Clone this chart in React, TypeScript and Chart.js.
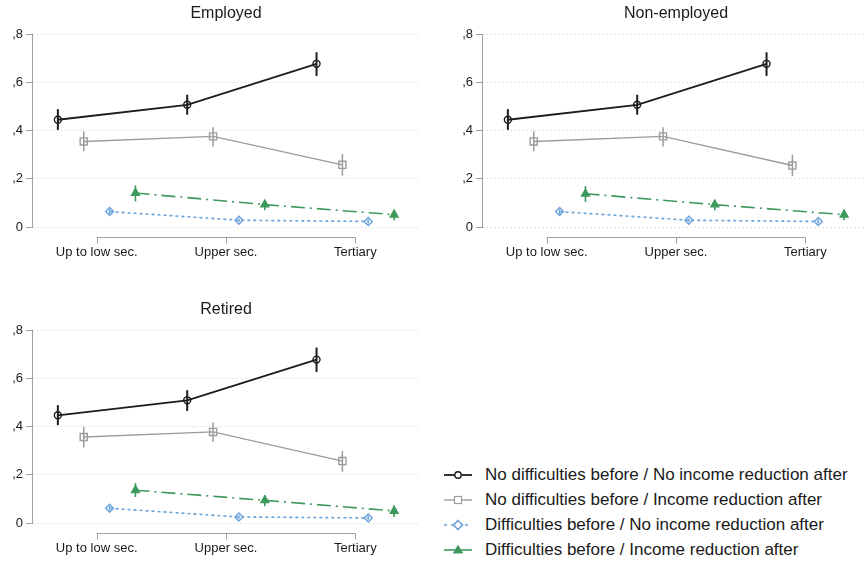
import React, { useEffect, useRef } from "react";
import { Chart, registerables } from "chart.js";

Chart.register(...registerables);

// ---------- data ----------
const categories = ["Up to low sec.", "Upper sec.", "Tertiary"];
const panelTitles = ["Employed", "Non-employed", "Retired"];
const seriesLabels = [
  "No difficulties before / No income reduction after",
  "No difficulties before / Income reduction after",
  "Difficulties before / No income reduction after",
  "Difficulties before / Income reduction after",
];
const yTickValues = [0, 0.2, 0.4, 0.6, 0.8];
const yTickLabels = ["0", ",2", ",4", ",6", ",8"];
const seriesOffsets = [-0.3, -0.1, 0.1, 0.3];

// Employed: estimates and 95% CI bounds
const empNoDiffNoRed = [0.445, 0.507, 0.677];
const empNoDiffNoRedLo = [0.403, 0.466, 0.627];
const empNoDiffNoRedHi = [0.489, 0.549, 0.725];
const empNoDiffRed = [0.355, 0.376, 0.258];
const empNoDiffRedLo = [0.314, 0.334, 0.213];
const empNoDiffRedHi = [0.397, 0.414, 0.303];
const empDiffNoRed = [0.064, 0.028, 0.023];
const empDiffNoRedLo = [0.054, 0.021, 0.015];
const empDiffNoRedHi = [0.074, 0.035, 0.031];
const empDiffRed = [0.141, 0.093, 0.051];
const empDiffRedLo = [0.106, 0.069, 0.028];
const empDiffRedHi = [0.173, 0.113, 0.072];

// Non-employed
const nonNoDiffNoRed = [0.445, 0.507, 0.677];
const nonNoDiffNoRedLo = [0.403, 0.466, 0.627];
const nonNoDiffNoRedHi = [0.489, 0.549, 0.725];
const nonNoDiffRed = [0.355, 0.376, 0.255];
const nonNoDiffRedLo = [0.314, 0.334, 0.211];
const nonNoDiffRedHi = [0.397, 0.414, 0.300];
const nonDiffNoRed = [0.064, 0.028, 0.023];
const nonDiffNoRedLo = [0.054, 0.021, 0.015];
const nonDiffNoRedHi = [0.074, 0.035, 0.031];
const nonDiffRed = [0.138, 0.093, 0.051];
const nonDiffRedLo = [0.104, 0.069, 0.028];
const nonDiffRedHi = [0.170, 0.113, 0.072];

// Retired
const retNoDiffNoRed = [0.447, 0.509, 0.678];
const retNoDiffNoRedLo = [0.406, 0.465, 0.627];
const retNoDiffNoRedHi = [0.489, 0.551, 0.728];
const retNoDiffRed = [0.357, 0.378, 0.257];
const retNoDiffRedLo = [0.313, 0.336, 0.212];
const retNoDiffRedHi = [0.399, 0.417, 0.299];
const retDiffNoRed = [0.061, 0.025, 0.021];
const retDiffNoRedLo = [0.051, 0.018, 0.013];
const retDiffNoRedHi = [0.071, 0.032, 0.029];
const retDiffRed = [0.136, 0.094, 0.050];
const retDiffRedLo = [0.108, 0.069, 0.025];
const retDiffRedHi = [0.166, 0.115, 0.073];

const panelData = [
  [
    [empNoDiffNoRed, empNoDiffNoRedLo, empNoDiffNoRedHi],
    [empNoDiffRed, empNoDiffRedLo, empNoDiffRedHi],
    [empDiffNoRed, empDiffNoRedLo, empDiffNoRedHi],
    [empDiffRed, empDiffRedLo, empDiffRedHi],
  ],
  [
    [nonNoDiffNoRed, nonNoDiffNoRedLo, nonNoDiffNoRedHi],
    [nonNoDiffRed, nonNoDiffRedLo, nonNoDiffRedHi],
    [nonDiffNoRed, nonDiffNoRedLo, nonDiffNoRedHi],
    [nonDiffRed, nonDiffRedLo, nonDiffRedHi],
  ],
  [
    [retNoDiffNoRed, retNoDiffNoRedLo, retNoDiffNoRedHi],
    [retNoDiffRed, retNoDiffRedLo, retNoDiffRedHi],
    [retDiffNoRed, retDiffNoRedLo, retDiffNoRedHi],
    [retDiffRed, retDiffRedLo, retDiffRedHi],
  ],
];

// ---------- styles ----------
const FONT = "'Liberation Sans', Arial, Helvetica, sans-serif";
const seriesStyles = [
  { color: "#1c1c1c", width: 1.8, dash: [] as number[], legendDash: "", point: "circle", radius: 3.5, fill: "rgba(255,255,255,0)", errWidth: 2 },
  { color: "#9c9c9c", width: 1.4, dash: [] as number[], legendDash: "", point: "rect", radius: 5, fill: "rgba(255,255,255,0)", errWidth: 1.5 },
  { color: "#6aa2dc", width: 1.6, dash: [3, 3], legendDash: "3 4", point: "rectRot", radius: 4, fill: "rgba(255,255,255,0)", errWidth: 1.5 },
  { color: "#3e9a5c", width: 1.6, dash: [14, 5, 2, 5], legendDash: "", point: "triangle", radius: 4.5, fill: "#3e9a5c", errWidth: 1.6 },
];

const errorBarPlugin = {
  id: "errorBars",
  afterDatasetsDraw(chart: any) {
    const ctx = chart.ctx;
    const yScale = chart.scales.y;
    chart.data.datasets.forEach((ds: any, di: number) => {
      const meta = chart.getDatasetMeta(di);
      ctx.save();
      ctx.strokeStyle = ds.borderColor;
      ctx.lineWidth = ds.errWidth;
      ctx.setLineDash([]);
      meta.data.forEach((pt: any, i: number) => {
        const lo = ds.errLo[i];
        const hi = ds.errHi[i];
        ctx.beginPath();
        ctx.moveTo(pt.x, yScale.getPixelForValue(lo));
        ctx.lineTo(pt.x, yScale.getPixelForValue(hi));
        ctx.stroke();
      });
      ctx.restore();
    });
  },
};

const xAxisPlugin = {
  id: "stataXAxis",
  afterDraw(chart: any) {
    const ctx = chart.ctx;
    const xs = chart.scales.x;
    const y = chart.chartArea.bottom + 10.5;
    const x1 = xs.getPixelForValue(1);
    const x3 = xs.getPixelForValue(categories.length);
    ctx.save();
    ctx.strokeStyle = "#a0a0a0";
    ctx.lineWidth = 1;
    ctx.beginPath();
    ctx.moveTo(x1, y);
    ctx.lineTo(x3, y);
    for (let i = 1; i <= categories.length; i++) {
      const x = Math.round(xs.getPixelForValue(i)) + 0.5;
      ctx.moveTo(x, y);
      ctx.lineTo(x, y + 6);
    }
    ctx.stroke();
    ctx.restore();
  },
};

function Panel({ index, left, top }: { index: number; left: number; top: number }) {
  const ref = useRef<HTMLCanvasElement | null>(null);
  useEffect(() => {
    if (!ref.current) return;
    const data = panelData[index];
    const datasets = data.map((s, si) => {
      const st = seriesStyles[si];
      return {
        label: seriesLabels[si],
        data: s[0].map((v, ci) => ({ x: ci + 1 + seriesOffsets[si], y: v })),
        errLo: s[1],
        errHi: s[2],
        errWidth: st.errWidth,
        borderColor: st.color,
        backgroundColor: st.fill,
        borderWidth: st.width,
        borderDash: st.dash,
        pointStyle: st.point,
        pointRadius: st.radius,
        pointBorderWidth: 1.4,
        pointBorderColor: st.color,
        pointBackgroundColor: st.fill,
        tension: 0,
        fill: false,
      };
    });
    const chart = new Chart(ref.current, {
      type: "line",
      data: { datasets },
      plugins: [errorBarPlugin, xAxisPlugin],
      options: {
        responsive: false,
        animation: false,
        layout: { padding: { left: 0, right: 13, top: 0, bottom: 0 } },
        plugins: {
          legend: { display: false },
          tooltip: { enabled: false },
          title: {
            display: true,
            text: panelTitles[index],
            fullSize: false,
            color: "#1a1a1a",
            font: { family: FONT, size: 16, weight: "normal" },
            padding: { top: 4, bottom: 11 },
          },
        },
        scales: {
          x: {
            type: "linear",
            min: 0.5,
            max: 3.5,
            afterFit(scale: any) {
              scale.height = 38;
            },
            afterBuildTicks(scale: any) {
              scale.ticks = categories.map((_, i) => ({ value: i + 1 }));
            },
            grid: { display: false, drawTicks: false },
            border: { display: false },
            ticks: {
              autoSkip: false,
              maxRotation: 0,
              padding: 18,
              color: "#1a1a1a",
              font: { family: FONT, size: 13 },
              callback: (v: any) => categories[Math.round(v) - 1] ?? "",
            },
          },
          y: {
            type: "linear",
            min: 0,
            max: 0.8,
            afterFit(scale: any) {
              scale.width = 32;
            },
            afterBuildTicks(scale: any) {
              scale.ticks = yTickValues.map((v) => ({ value: v }));
            },
            grid: {
              color: "#cfcfcf",
              lineWidth: 1,
              drawTicks: true,
              tickLength: 6,
              tickColor: "#a0a0a0",
            },
            border: { display: true, color: "#a0a0a0", width: 1, dash: [1, 3] },
            ticks: {
              padding: 3,
              color: "#1a1a1a",
              font: { family: FONT, size: 13 },
              callback: (v: any) => {
                const k = yTickValues.findIndex((t) => Math.abs(t - v) < 1e-9);
                return k >= 0 ? yTickLabels[k] : "";
              },
            },
          },
        },
      } as any,
    });
    return () => chart.destroy();
  }, [index]);
  return (
    <canvas
      ref={ref}
      width={433}
      height={265}
      style={{ position: "absolute", left, top, width: 433, height: 265 }}
    />
  );
}

function LegendIcon({ si }: { si: number }) {
  const st = seriesStyles[si];
  const cx = 14;
  const cy = 8;
  let marker: React.ReactNode = null;
  if (st.point === "circle") {
    marker = <circle cx={cx} cy={cy} r={3.2} fill="white" stroke={st.color} strokeWidth={1.4} />;
  } else if (st.point === "rect") {
    marker = <rect x={cx - 3.5} y={cy - 3.5} width={7} height={7} fill="white" stroke={st.color} strokeWidth={1.2} />;
  } else if (st.point === "rectRot") {
    marker = (
      <polygon
        points={`${cx},${cy - 4.5} ${cx + 4.5},${cy} ${cx},${cy + 4.5} ${cx - 4.5},${cy}`}
        fill="white"
        stroke={st.color}
        strokeWidth={1.6}
      />
    );
  } else {
    marker = (
      <polygon
        points={`${cx},${cy - 4.5} ${cx + 4.5},${cy + 3} ${cx - 4.5},${cy + 3}`}
        fill={st.color}
        stroke={st.color}
        strokeWidth={1}
      />
    );
  }
  return (
    <svg width={28} height={16} style={{ display: "block" }}>
      <line
        x1={0}
        y1={cy}
        x2={28}
        y2={cy}
        stroke={st.color}
        strokeWidth={st.width}
        strokeDasharray={st.legendDash || undefined}
      />
      {marker}
    </svg>
  );
}

export default function App() {
  return (
    <div
      style={{
        position: "absolute",
        left: 0,
        top: 0,
        width: 866,
        height: 563,
        overflow: "hidden",
        background: "#ffffff",
        fontFamily: FONT,
      }}
    >
      <Panel index={0} left={0} top={0} />
      <Panel index={1} left={450} top={0} />
      <Panel index={2} left={0} top={296} />
      <div style={{ position: "absolute", left: 444, top: 462 }}>
        {seriesLabels.map((lab, si) => (
          <div
            key={lab}
            style={{ display: "flex", alignItems: "center", height: 25, whiteSpace: "nowrap" }}
          >
            <LegendIcon si={si} />
            <span style={{ marginLeft: 13, fontSize: 17, color: "#1a1a1a", lineHeight: "25px" }}>{lab}</span>
          </div>
        ))}
      </div>
    </div>
  );
}
